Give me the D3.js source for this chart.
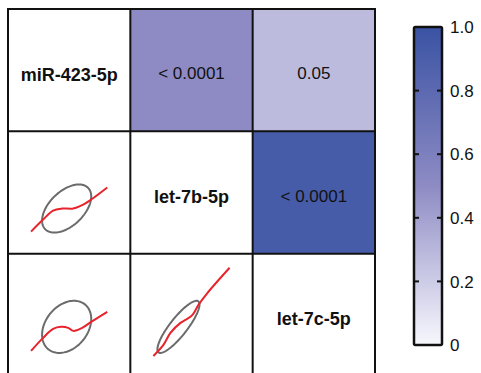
<!DOCTYPE html>
<html><head><meta charset="utf-8">
<script src="https://cdn.jsdelivr.net/npm/d3@7"></script>
<style>body{margin:0;background:#fff}svg{display:block;font-family:"Liberation Sans",Arial,sans-serif}</style>
</head><body>
<svg id="c" width="481" height="373"></svg>
<script>
const genes = ["miR-423-5p", "let-7b-5p", "let-7c-5p"];
// upper triangle: [row, col, correlation, p-label]
const corrCells = [
  [0, 1, 0.50, "< 0.0001"],
  [0, 2, 0.28, "0.05"],
  [1, 2, 0.92, "< 0.0001"]
];
// lower-triangle panels, coordinates in cell units (0..122)
const ellipses = [
  {row: 1, col: 0, cx: 58.5, cy: 45, sx: 24.5, sy: 24, r: 0.5},
  {row: 2, col: 0, cx: 58.5, cy: 49, sx: 24.5, sy: 26, r: 0.3},
  {row: 2, col: 1, cx: 48, cy: 49, sx: 21, sy: 26, r: 0.86}
];
const smooth10 = [[23,22],[35,34],[45,43],[54,45],[65,45],[75,49],[83,54],[99,66]];
const smooth20 = [[23,25],[35,38],[45,47],[53,49],[60,48],[65,45],[74,48],[83,54],[99,64]];
const smooth21 = [[23,20],[33,31],[40,43],[50,53],[55,56],[62,61],[68,71],[77,83],[99,108]];
const smooths = [{row:1,col:0,pts:smooth10},{row:2,col:0,pts:smooth20},{row:2,col:1,pts:smooth21}];
const legendTicks = [0, 0.2, 0.4, 0.6, 0.8, 1.0];
const legendLabels = ["0", "0.2", "0.4", "0.6", "0.8", "1.0"];

const svg = d3.select("#c");
const gridX = d3.scaleLinear().domain([0, 3]).range([8, 375]);
const gridY = d3.scaleLinear().domain([0, 3]).range([9, 376]);
const cw = gridX(1) - gridX(0);
const color = d3.scaleLinear().domain([0, 0.5, 1]).range(["#f7f8fd", "#8e8bc4", "#3a53a4"]);

for (let i = 0; i < 3; i++) for (let j = 0; j < 3; j++) {
  svg.append("rect").attr("x", gridX(j)).attr("y", gridY(i)).attr("width", cw).attr("height", cw).attr("fill", "#fff");
}
corrCells.forEach(([i, j, v, lab]) => {
  svg.append("rect").attr("x", gridX(j)).attr("y", gridY(i)).attr("width", cw).attr("height", cw).attr("fill", color(v));
  svg.append("text").attr("x", gridX(j + 0.5)).attr("y", gridY(i + 0.5) + 3).attr("dy", "0.36em")
    .attr("text-anchor", "middle").attr("font-size", 17).attr("fill", "#111").text(lab);
});
genes.forEach((g, i) => {
  svg.append("text").attr("x", gridX(i + 0.5)).attr("y", gridY(i + 0.5) + 4).attr("dy", "0.36em")
    .attr("text-anchor", "middle").attr("font-size", 18).attr("font-weight", "bold").attr("fill", "#111").text(g);
});

function panelScales(row, col) {
  const x = d3.scaleLinear().domain([0, 122]).range([gridX(col), gridX(col + 1)]);
  const y = d3.scaleLinear().domain([0, 122]).range([gridY(row + 1), gridY(row)]);
  return {x, y};
}
ellipses.forEach(e => {
  const {x, y} = panelScales(e.row, e.col);
  const d = Math.acos(e.r);
  const pts = d3.range(0, 2 * Math.PI + 0.01, Math.PI / 60).map(t => [e.cx + e.sx * Math.cos(t + d / 2), e.cy + e.sy * Math.cos(t - d / 2)]);
  svg.append("path").attr("d", d3.line().x(p => x(p[0])).y(p => y(p[1]))(pts))
    .attr("fill", "none").attr("stroke", "#6b6b6b").attr("stroke-width", 2);
});
smooths.forEach(s => {
  const {x, y} = panelScales(s.row, s.col);
  svg.append("path").attr("d", d3.line().x(p => x(p[0])).y(p => y(p[1])).curve(d3.curveCatmullRom)(s.pts))
    .attr("fill", "none").attr("stroke", "#e8232b").attr("stroke-width", 2);
});

const lines = svg.append("g").attr("stroke", "#111").attr("stroke-width", 2);
[0, 1, 2, 3].forEach(k => {
  lines.append("line").attr("x1", gridX(k)).attr("x2", gridX(k)).attr("y1", gridY(0) - 1).attr("y2", gridY(3));
  lines.append("line").attr("x1", gridX(0) - 1).attr("x2", gridX(3) + 1).attr("y1", gridY(k)).attr("y2", gridY(k));
});

const ly = d3.scaleLinear().domain([0, 1]).range([345, 27]);
const bx0 = 414, bx1 = 442;
const defs = svg.append("defs");
const grad = defs.append("linearGradient").attr("id", "g").attr("x1", 0).attr("y1", 1).attr("x2", 0).attr("y2", 0);
d3.range(0, 1.001, 0.1).forEach(t => grad.append("stop").attr("offset", t).attr("stop-color", color(t)));
svg.append("rect").attr("x", bx0).attr("y", ly(1)).attr("width", bx1 - bx0).attr("height", ly(0) - ly(1))
  .attr("fill", "url(#g)").attr("stroke", "#111").attr("stroke-width", 2.5).attr("rx", 1.5);
legendTicks.forEach((t, k) => {
  if (t > 0 && t < 1) {
    svg.append("line").attr("x1", bx0).attr("x2", bx0 + 5).attr("y1", ly(t)).attr("y2", ly(t)).attr("stroke", "#111").attr("stroke-width", 2);
    svg.append("line").attr("x1", bx1 - 5).attr("x2", bx1).attr("y1", ly(t)).attr("y2", ly(t)).attr("stroke", "#111").attr("stroke-width", 2);
  }
  svg.append("text").attr("x", 450).attr("y", ly(t)).attr("dy", "0.36em").attr("font-size", 17).attr("fill", "#111").text(legendLabels[k]);
});
</script>
</body></html>
